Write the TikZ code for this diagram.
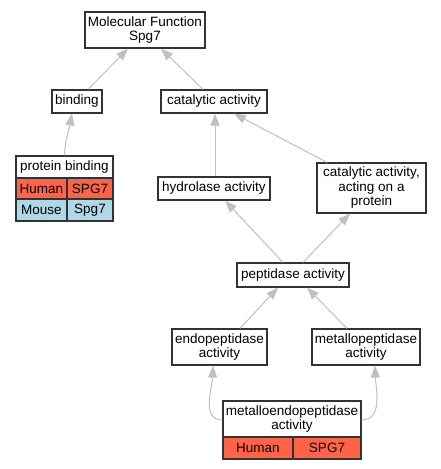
\documentclass[tikz,border=0pt]{standalone}
\usepackage{fontspec}
\setmainfont{Liberation Sans}
\usetikzlibrary{arrows.meta}
\definecolor{human}{HTML}{FF6347}
\definecolor{mouse}{HTML}{ADD8E6}
\definecolor{edgec}{HTML}{C0C0C0}
\definecolor{border}{HTML}{333333}
\begin{document}
\begin{tikzpicture}[x=1pt,y=-1pt,
  box/.style={draw=border, line width=1.2pt, fill=white, inner sep=0pt, align=center,
    font=\fontsize{13.5}{14.5}\selectfont},
  hcell/.style={box, fill=human},
  mcell/.style={box, fill=mouse},
  edge/.style={draw=edgec, line width=1pt, -{Triangle[length=12pt,width=9pt]}}]
\useasboundingbox[fill=white] (0,0) rectangle (440,469);
% nodes
\node[box, minimum width=120pt, minimum height=36pt] (mf) at (145,30) {Molecular Function\\Spg7};
\node[box, minimum width=50pt, minimum height=23pt] (bind) at (77,101.5) {binding};
\node[box, minimum width=106pt, minimum height=23pt] (cat) at (214,101.5) {catalytic activity};
% protein binding table
\node[box, minimum width=97pt, minimum height=22pt] (pb) at (64.5,167) {protein binding};
\node[hcell, minimum width=51pt, minimum height=21pt] (pbh1) at (41.5,188.5) {Human};
\node[hcell, minimum width=46pt, minimum height=21pt] (pbh2) at (90,188.5) {SPG7};
\node[mcell, minimum width=51pt, minimum height=22pt] (pbm1) at (41.5,210) {Mouse};
\node[mcell, minimum width=46pt, minimum height=22pt] (pbm2) at (90,210) {Spg7};
\node[box, minimum width=112pt, minimum height=23pt] (hyd) at (214,188.5) {hydrolase activity};
\node[box, minimum width=109pt, minimum height=50pt] (catp) at (371.5,188) {catalytic activity,\\acting on a\\protein};
\node[box, minimum width=112pt, minimum height=24pt] (pep) at (293,275) {peptidase activity};
\node[box, minimum width=95pt, minimum height=36pt] (endo) at (219.5,347) {endopeptidase\\activity};
\node[box, minimum width=108pt, minimum height=36pt] (met) at (366,347) {metallopeptidase\\activity};
% metalloendopeptidase table
\node[box, minimum width=138pt, minimum height=36pt] (me) at (292,419) {metalloendopeptidase\\activity};
\node[hcell, minimum width=70pt, minimum height=22pt] (meh1) at (258,448) {Human};
\node[hcell, minimum width=68pt, minimum height=22pt] (meh2) at (327,448) {SPG7};
% edges
\draw[edge] ([xshift=11pt]bind.north) -- ([xshift=-17pt]mf.south);
\draw[edge] ([xshift=-11pt]cat.north) -- ([xshift=16pt]mf.south);
\draw[edge] (pb.north) to[out=88,in=-100] ([xshift=-5pt]bind.south);
\draw[edge] ([xshift=1pt]hyd.north) -- ([xshift=1pt]cat.south);
\draw[edge] ([xshift=-44.5pt]catp.north) -- ([xshift=20pt]cat.south);
\draw[edge] ([xshift=-10pt]pep.north) -- ([xshift=11pt]hyd.south);
\draw[edge] ([xshift=10pt]pep.north) -- ([xshift=-21.5pt]catp.south);
\draw[edge] ([xshift=20.5pt]endo.north) -- ([xshift=-15pt]pep.south);
\draw[edge] ([xshift=-19pt]met.north) -- ([xshift=14pt]pep.south);
\draw[edge] ([yshift=-1pt]me.west) to[out=180,in=-92] ([xshift=-6.5pt]endo.south);
\draw[edge] ([yshift=-1pt]me.east) to[out=0,in=-88] ([xshift=9pt]met.south);
\end{tikzpicture}
\end{document}
